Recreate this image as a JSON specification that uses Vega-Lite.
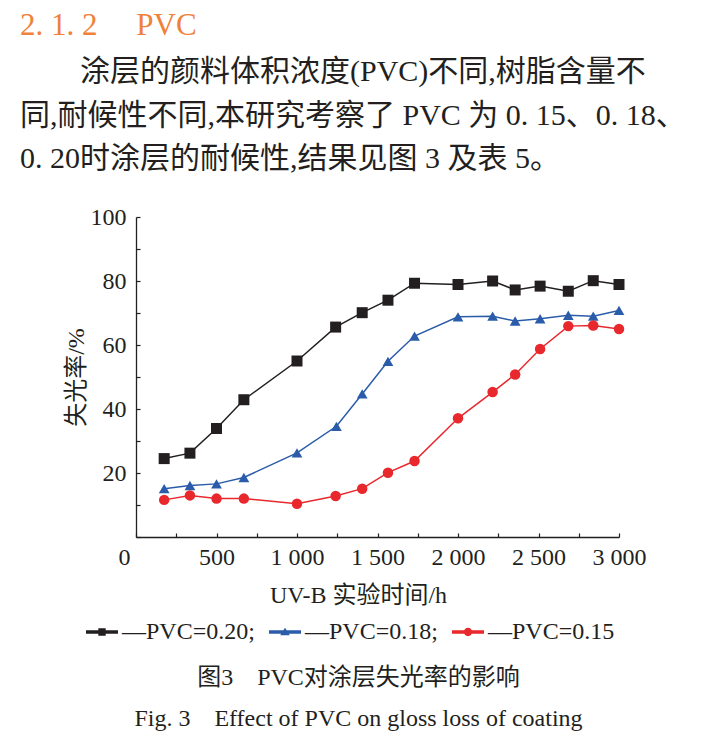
{
  "$schema": "https://vega.github.io/schema/vega-lite/v6.json",
  "width": 483,
  "height": 320,
  "autosize": {"type": "none"},
  "padding": {"left": 136, "top": 217, "right": 98, "bottom": 207},
  "background": "white",
  "config": {
    "font": "Liberation Serif, Noto Sans CJK SC",
    "view": {"stroke": null},
    "axis": {
      "domainColor": "#231f20",
      "domainWidth": 1.3,
      "tickColor": "#231f20",
      "tickWidth": 1.2,
      "tickSize": -4,
      "labelFont": "Liberation Serif, Noto Sans CJK SC",
      "labelFontSize": 24,
      "labelColor": "#231f20",
      "titleFont": "Liberation Serif, Noto Sans CJK SC",
      "titleFontSize": 24,
      "titleFontWeight": "normal",
      "titleColor": "#231f20",
      "grid": false
    }
  },
  "title": {
    "text": "2. 1. 2　 PVC",
    "subtitle": [
      "\u200b　　涂层的颜料体积浓度(PVC)不同,树脂含量不",
      "同,耐候性不同,本研究考察了 PVC 为 0. 15、0. 18、",
      "0. 20时涂层的耐候性,结果见图 3 及表 5。"
    ],
    "anchor": "start",
    "frame": "group",
    "dx": -116,
    "offset": 30,
    "font": "Liberation Serif, Noto Sans CJK SC",
    "fontSize": 31,
    "fontWeight": "normal",
    "color": "#f0813a",
    "subtitleFont": "Liberation Serif, Noto Sans CJK SC",
    "subtitleFontSize": 30,
    "subtitleLineHeight": 43.5,
    "subtitleColor": "#231f20",
    "subtitlePadding": 15
  },
  "data": {
    "values": [
      {"t": 175, "loss": 24.5, "pvc": "PVC=0.20"},
      {"t": 335, "loss": 26.2, "pvc": "PVC=0.20"},
      {"t": 500, "loss": 33.9, "pvc": "PVC=0.20"},
      {"t": 670, "loss": 42.9, "pvc": "PVC=0.20"},
      {"t": 1000, "loss": 55.0, "pvc": "PVC=0.20"},
      {"t": 1240, "loss": 65.6, "pvc": "PVC=0.20"},
      {"t": 1405, "loss": 70.1, "pvc": "PVC=0.20"},
      {"t": 1565, "loss": 74.0, "pvc": "PVC=0.20"},
      {"t": 1730, "loss": 79.3, "pvc": "PVC=0.20"},
      {"t": 2000, "loss": 78.9, "pvc": "PVC=0.20"},
      {"t": 2215, "loss": 80.0, "pvc": "PVC=0.20"},
      {"t": 2355, "loss": 77.2, "pvc": "PVC=0.20"},
      {"t": 2510, "loss": 78.4, "pvc": "PVC=0.20"},
      {"t": 2685, "loss": 76.8, "pvc": "PVC=0.20"},
      {"t": 2840, "loss": 80.1, "pvc": "PVC=0.20"},
      {"t": 3000, "loss": 78.9, "pvc": "PVC=0.20"},
      {"t": 175, "loss": 15.1, "pvc": "PVC=0.18"},
      {"t": 335, "loss": 16.1, "pvc": "PVC=0.18"},
      {"t": 500, "loss": 16.6, "pvc": "PVC=0.18"},
      {"t": 670, "loss": 18.6, "pvc": "PVC=0.18"},
      {"t": 1000, "loss": 26.3, "pvc": "PVC=0.18"},
      {"t": 1245, "loss": 34.6, "pvc": "PVC=0.18"},
      {"t": 1405, "loss": 44.7, "pvc": "PVC=0.18"},
      {"t": 1565, "loss": 54.9, "pvc": "PVC=0.18"},
      {"t": 1730, "loss": 62.8, "pvc": "PVC=0.18"},
      {"t": 2000, "loss": 68.8, "pvc": "PVC=0.18"},
      {"t": 2215, "loss": 69.0, "pvc": "PVC=0.18"},
      {"t": 2355, "loss": 67.5, "pvc": "PVC=0.18"},
      {"t": 2510, "loss": 68.2, "pvc": "PVC=0.18"},
      {"t": 2685, "loss": 69.3, "pvc": "PVC=0.18"},
      {"t": 2840, "loss": 69.0, "pvc": "PVC=0.18"},
      {"t": 3000, "loss": 70.8, "pvc": "PVC=0.18"},
      {"t": 175, "loss": 11.6, "pvc": "PVC=0.15"},
      {"t": 335, "loss": 13.0, "pvc": "PVC=0.15"},
      {"t": 500, "loss": 12.0, "pvc": "PVC=0.15"},
      {"t": 670, "loss": 12.0, "pvc": "PVC=0.15"},
      {"t": 1000, "loss": 10.4, "pvc": "PVC=0.15"},
      {"t": 1240, "loss": 12.8, "pvc": "PVC=0.15"},
      {"t": 1405, "loss": 15.1, "pvc": "PVC=0.15"},
      {"t": 1565, "loss": 20.1, "pvc": "PVC=0.15"},
      {"t": 1730, "loss": 23.75, "pvc": "PVC=0.15"},
      {"t": 2000, "loss": 37.1, "pvc": "PVC=0.15"},
      {"t": 2215, "loss": 45.3, "pvc": "PVC=0.15"},
      {"t": 2355, "loss": 50.8, "pvc": "PVC=0.15"},
      {"t": 2510, "loss": 58.75, "pvc": "PVC=0.15"},
      {"t": 2685, "loss": 65.9, "pvc": "PVC=0.15"},
      {"t": 2840, "loss": 66.1, "pvc": "PVC=0.15"},
      {"t": 3000, "loss": 65.0, "pvc": "PVC=0.15"}
    ]
  },
  "encoding": {
    "x": {
      "field": "t",
      "type": "quantitative",
      "scale": {"domain": [0, 3000], "nice": false},
      "axis": {
        "values": [0, 250, 500, 750, 1000, 1250, 1500, 1750, 2000, 2250, 2500, 2750, 3000],
        "labelExpr": "datum.value % 500 == 0 ? replace(format(datum.value, ','), ',', ' ') : ''",
        "labelFlush": false,
        "labelAlign": {"condition": {"test": "datum.value == 0", "value": "right"}, "value": "center"},
        "labelOffset": {"condition": {"test": "datum.value == 0", "value": -6}, "value": 0},
        "labelPadding": 12,
        "title": ["UV-B 实验时间/h", "\u200b", "图3　PVC对涂层失光率的影响", "Fig. 3　Effect of PVC on gloss loss of coating"],
        "titleLineHeight": 41,
        "titleX": 222,
        "titlePadding": 14
      }
    },
    "y": {
      "field": "loss",
      "type": "quantitative",
      "scale": {"domain": [0, 100], "nice": false},
      "axis": {
        "values": [0, 10, 20, 30, 40, 50, 60, 70, 80, 90, 100],
        "labelExpr": "datum.value > 0 && datum.value % 20 == 0 ? datum.label : ''",
        "labelPadding": 14,
        "title": "失光率/%",
        "titlePadding": 2
      }
    }
  },
  "layer": [
    {
      "mark": {"type": "line", "strokeWidth": 1.5},
      "encoding": {
        "color": {
          "field": "pvc",
          "type": "nominal",
          "scale": {"domain": ["PVC=0.20", "PVC=0.18", "PVC=0.15"], "range": ["#231f20", "#2a5caa", "#e8282d"]},
          "legend": null
        }
      }
    },
    {
      "mark": {"type": "point", "filled": true, "opacity": 1},
      "encoding": {
        "color": {
          "field": "pvc",
          "type": "nominal",
          "scale": {"domain": ["PVC=0.20", "PVC=0.18", "PVC=0.15"], "range": ["#231f20", "#2a5caa", "#e8282d"]},
          "legend": null
        },
        "shape": {
          "field": "pvc",
          "type": "nominal",
          "scale": {"domain": ["PVC=0.20", "PVC=0.18", "PVC=0.15"], "range": ["square", "triangle-up", "circle"]},
          "legend": null
        },
        "size": {
          "field": "pvc",
          "type": "ordinal",
          "scale": {"domain": ["PVC=0.20", "PVC=0.18", "PVC=0.15"], "range": [121, 110, 81]},
          "legend": null
        }
      }
    },
    {
      "mark": {"type": "point", "filled": true, "opacity": 0},
      "encoding": {
        "color": {
          "field": "pvc",
          "type": "nominal",
          "scale": {"domain": ["PVC=0.20", "PVC=0.18", "PVC=0.15"], "range": ["#231f20", "#2a5caa", "#e8282d"]},
          "legend": {
            "orient": "none", "legendX": -50, "legendY": 399, "direction": "horizontal", "title": null,
            "padding": 0, "symbolSize": 1024, "symbolStrokeWidth": 0, "symbolOpacity": 1,
            "labelFont": "Liberation Serif, Noto Sans CJK SC", "labelFontSize": 24, "labelColor": "#231f20",
            "labelOffset": 4, "columnPadding": 14, "labelLimit": 300,
            "labelExpr": "'—' + datum.label + (datum.label == 'PVC=0.15' ? '' : ';')"
          }
        },
        "shape": {
          "field": "pvc",
          "type": "nominal",
          "scale": {
            "domain": ["PVC=0.20", "PVC=0.18", "PVC=0.15"],
            "range": [
              "M-1,-0.11H1V0.11H-1Z M-0.23,-0.23H0.23V0.23H-0.23Z",
              "M-1,-0.11H1V0.11H-1Z M0,-0.27L0.3,0.2H-0.3Z",
              "M-1,-0.11H1V0.11H-1Z M-0.26,0A0.26,0.26 0 1,1 0.26,0A0.26,0.26 0 1,1 -0.26,0Z"
            ]
          },
          "legend": {
            "orient": "none", "legendX": -50, "legendY": 399, "direction": "horizontal", "title": null,
            "padding": 0, "symbolSize": 1024, "symbolStrokeWidth": 0, "symbolOpacity": 1,
            "labelFont": "Liberation Serif, Noto Sans CJK SC", "labelFontSize": 24, "labelColor": "#231f20",
            "labelOffset": 4, "columnPadding": 14, "labelLimit": 300,
            "labelExpr": "'—' + datum.label + (datum.label == 'PVC=0.15' ? '' : ';')"
          }
        }
      }
    }
  ],
  "resolve": {"scale": {"shape": "independent", "size": "independent", "color": "independent"}}
}
